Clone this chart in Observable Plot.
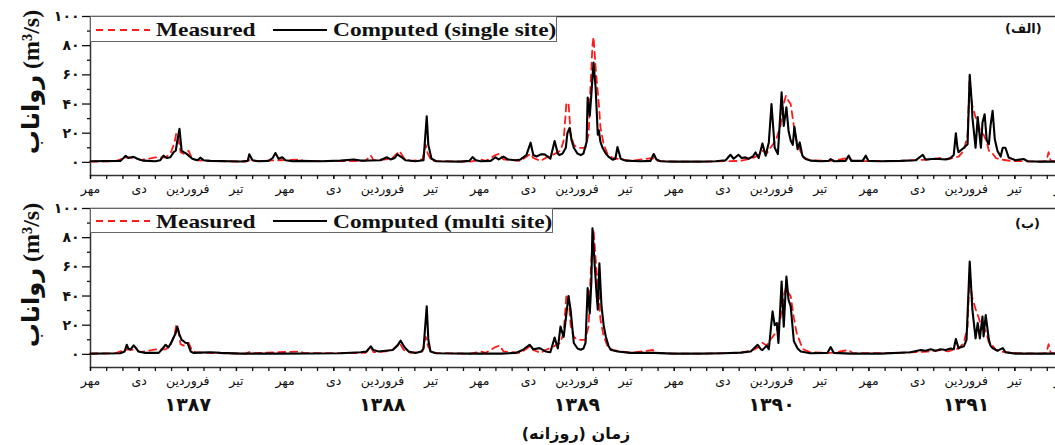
<!DOCTYPE html>
<html><head><meta charset="utf-8">
<script src="https://cdn.jsdelivr.net/npm/d3@7"></script>
<script src="https://cdn.jsdelivr.net/npm/@observablehq/plot@0.6"></script>
<style>
html,body{margin:0;padding:0;background:#fff;overflow:hidden}
#wrap{position:relative;width:1070px;height:445px;overflow:hidden;color:#111}
.pl{position:absolute;left:0;width:1070px}
.legend{position:absolute;border:1px solid #666;background:#fff;box-sizing:border-box}
.legend svg{position:absolute}
.lt{position:absolute;top:50%;font-family:"Liberation Serif",serif;font-weight:bold;font-size:19px;line-height:19px;white-space:nowrap;transform-origin:left center;transform:translateY(-50%) scaleX(1.23);color:#111}
.ytitle{position:absolute;white-space:nowrap;font-family:"Liberation Serif","DejaVu Sans",serif;font-weight:bold;font-size:24px;transform:translate(-50%,-50%) rotate(-90deg);color:#111}
.plabel{position:absolute;font-family:"DejaVu Sans",sans-serif;font-weight:bold;font-size:13px;white-space:nowrap;color:#111}
.xtitle{position:absolute;font-family:"DejaVu Sans",sans-serif;font-weight:bold;font-size:16px;white-space:nowrap;transform:translate(-50%,-50%);color:#111}
</style>
</head><body>
<div id="wrap">
  <div class="pl" id="p1" style="top:0"></div>
  <div class="pl" id="p2" style="top:200px"></div>

  <div class="legend" style="left:90px;top:16px;width:467px;height:26px">
    <svg style="left:5px;top:11px" width="54" height="4"><line x1="0" y1="2" x2="54" y2="2" stroke="#ff1a1a" stroke-width="2" stroke-dasharray="7,5"/></svg>
    <span class="lt" style="left:65px">Measured</span>
    <svg style="left:182px;top:11px" width="54" height="4"><line x1="0" y1="2" x2="54" y2="2" stroke="#000" stroke-width="2"/></svg>
    <span class="lt" style="left:242px">Computed (single site)</span>
  </div>
  <div class="legend" style="left:90px;top:208px;width:463px;height:25px">
    <svg style="left:5px;top:10px" width="54" height="4"><line x1="0" y1="2" x2="54" y2="2" stroke="#ff1a1a" stroke-width="2" stroke-dasharray="7,5"/></svg>
    <span class="lt" style="left:65px">Measured</span>
    <svg style="left:182px;top:10px" width="54" height="4"><line x1="0" y1="2" x2="54" y2="2" stroke="#000" stroke-width="2"/></svg>
    <span class="lt" style="left:242px">Computed (multi site)</span>
  </div>

  <div class="ytitle" style="left:31px;top:82px">رواناب (m³/s)</div>
  <div class="ytitle" style="left:31px;top:275px">رواناب (m³/s)</div>
  <div class="plabel" dir="rtl" style="left:1005px;top:21px">(الف)</div>
  <div class="plabel" dir="rtl" style="left:1015px;top:216px">(ب)</div>
  <div class="xtitle" dir="rtl" style="left:576px;top:433px">زمان (روزانه)</div>
</div>
<script>
// ---- tick labels ----
const MONTHS = ["مهر", "دی", "فروردین", "تیر"];
const YEARS = ["۱۳۸۷", "۱۳۸۸", "۱۳۸۹", "۱۳۹۰", "۱۳۹۱"];
const Y_TICKS = [0, 20, 40, 60, 80, 100];
const Y_MINOR = [10, 30, 50, 70, 90];
const DAYS_TOTAL = 1826; // مهر ۱۳۸۷ .. مهر ۱۳۹۲ (daily)

// ---- series: [day index, discharge m3/s] ----
const measured = [
[0,0.5],[47,0.8],[60,2.5],[69,3.5],[84,3],[94,1.5],[109,2.5],[122,3.4],[141,3.5],[150,6],[158,14],[161,20],[165,16],[169,7],[175,6],[180,7],[184,8],[190,3],[197,1.5],[216,1],[291,0.5],[298,1.5],[304,0.8],[394,2],[400,0.8],
[469,0.8],[516,1],[526,4.8],[531,1.5],[554,2],[567,3],[580,7.8],[588,3],[601,1],[623,2],[629,12],[633,6],[640,1],[713,0.5],[732,2],[741,1],[760,5],[768,6],[775,2],[807,1],
[826,6],[831,3],[845,1],[854,3],[867,5],[882,8],[888,15],[893,40],[897,41],[901,20],[907,12],[914,10],[929,10],[935,20],[938,50],[942,80],[944,86],[948,65],[950,56],[954,40],[957,24],[963,12.5],[970,6],[980,3],[995,2],[1014,1],[1055,3],[1062,1],[1107,0.5],
[1145,0.5],[1220,1],[1243,3],[1254,5],[1261,8],[1269,6],[1276,10],[1286,15],[1295,25],[1301,40],[1305,45.7],[1310,42],[1314,40],[1320,25],[1325,15],[1333,7],[1338,3.4],[1351,1.5],[1389,1],[1423,3],[1430,1],[1449,0.8],
[1520,1],[1577,2],[1595,3],[1609,2],[1618,3],[1629,4],[1639,8],[1646,19],[1650,59],[1654,40],[1661,31],[1667,25],[1671,20],[1676,19],[1682,14],[1686,8],[1693,6],[1699,3],[1708,2],[1727,1],[1783,0.5],[1794,1],[1798,7],[1802,1],[1824,0.5]
];
const singleSite = [
[0,0.8],[56,1],[62,3],[66,4.5],[71,3],[81,3.8],[88,2.5],[98,1.2],[122,0.8],[131,1.5],[137,4.6],[143,3],[150,3.5],[156,7],[160,8],[163,15],[167,23],[171,8],[175,7],[180,6],[186,4],[191,2.5],[201,1.5],[206,3.2],[212,1.5],[225,1],[282,0.6],[295,1],[298,5.5],[304,1.5],[315,0.8],[334,1],[342,3],[347,6.4],[353,2.5],[360,3.5],[366,1.5],[379,0.8],
[394,1],[432,0.8],[469,1.2],[494,2],[507,1.2],[544,1.5],[556,3.5],[563,2],[571,3],[576,5.5],[582,4],[591,1.5],[610,0.8],[625,1.5],[631,31.5],[634,12],[640,2.5],[649,0.8],[694,0.5],[711,1],[717,3.6],[723,1.5],[732,0.8],[751,1],[760,3.5],[766,2],[775,4],[783,2],[798,1.5],[807,2],
[818,5],[826,13.5],[831,5],[837,4],[845,5.5],[852,5.5],[858,4],[863,2.5],[871,14.6],[877,6],[880,5],[886,6],[892,10],[895,20],[899,23.5],[903,15],[907,10],[914,6],[920,5],[925,6],[931,14],[933,44.5],[937,32],[940,47],[944,68.5],[948,51],[950,35],[952,19],[954,22],[957,14],[961,10],[967,6],[972,4],[980,1.8],[985,2.5],[989,10.5],[995,2.5],[1004,1.2],[1032,0.8],[1051,1],[1057,5.7],[1062,2],[1070,0.8],[1092,0.5],
[1145,0.5],[1173,0.8],[1192,1.5],[1198,4],[1201,5.2],[1207,2.5],[1216,5.2],[1222,3],[1229,3.4],[1235,2.5],[1243,4],[1248,6.8],[1254,3],[1261,13],[1267,4.6],[1273,13.7],[1278,40],[1284,10],[1290,5.7],[1297,48],[1301,25],[1306,37.7],[1310,21.7],[1314,15],[1318,12],[1321,24.4],[1327,9],[1331,13.7],[1336,4.6],[1342,2.3],[1351,1.2],[1370,0.8],[1385,1],[1389,2.3],[1395,0.8],[1417,1],[1423,4.6],[1428,1],[1449,1],[1455,4.6],[1460,1],
[1483,0.8],[1520,1],[1549,1.5],[1562,5.2],[1567,2],[1586,2.5],[1605,2],[1614,3],[1620,5],[1624,20],[1627,10],[1629,7],[1639,10],[1646,12.5],[1650,60],[1654,40],[1655,31],[1661,10],[1665,31],[1671,10],[1674,27.4],[1678,33],[1682,15],[1686,12.5],[1689,25],[1693,35.4],[1697,16],[1702,8],[1708,4],[1712,10],[1717,10],[1723,3.4],[1736,1.5],[1751,2.3],[1759,0.8],[1783,0.5],[1824,0.5]
];
const multiSite = [
[0,0.5],[56,0.8],[64,2],[68,6.6],[71,4],[75,3.2],[81,6.2],[86,4],[90,2],[103,1],[128,1],[133,3],[141,6.6],[146,4.8],[150,7],[154,10],[160,14.6],[163,19],[167,13.5],[171,10],[175,9],[178,8],[182,7.8],[188,2],[193,1],[206,1.2],[225,1.5],[244,1],[282,0.5],
[357,0.5],[469,0.8],[507,1.5],[518,2],[526,5.5],[531,3],[541,2],[567,3],[576,6],[582,9.4],[589,5],[597,2],[610,1],[621,2],[625,4],[631,33],[634,10],[638,2],[649,0.8],[713,0.5],
[770,0.5],[798,1],[811,3],[824,6.6],[831,3.5],[843,4.3],[854,2],[863,1.5],[871,11.6],[877,4],[882,19],[888,12],[897,40],[901,30.6],[907,7.8],[914,4],[920,3.2],[925,4],[929,7.8],[933,45.4],[937,28],[940,50],[942,86.5],[946,62.5],[950,40],[952,30.6],[955,62.5],[959,33],[963,20],[967,12.3],[972,6],[976,3.2],[989,2],[1014,1],[1057,1],[1092,0.5],
[1145,0.5],[1188,0.8],[1220,1.2],[1239,2],[1252,6.6],[1258,3.5],[1261,3],[1269,6],[1273,3.5],[1280,29.5],[1284,20],[1288,21.5],[1291,7.8],[1297,50],[1301,19],[1306,53.4],[1310,37.4],[1314,33],[1320,9],[1327,4],[1333,2],[1351,0.8],[1383,1],[1389,5],[1395,1],[1427,0.5],
[1483,0.5],[1539,1.5],[1558,3],[1567,2.5],[1577,3.5],[1586,2.5],[1595,3.5],[1605,3],[1614,4],[1620,3.5],[1624,10.5],[1629,4.3],[1639,5.5],[1644,10],[1650,63.7],[1655,30.6],[1661,11],[1665,21.5],[1669,11],[1674,26],[1676,12.3],[1680,27],[1686,10],[1689,6],[1693,4.3],[1702,2.5],[1712,4.3],[1717,1.5],[1736,0.5],[1824,0.5]
];

const fa = n => String(n).replace(/\d/g, d => "۰۱۲۳۴۵۶۷۸۹"[+d]);
const toRows = a => a.map(([d, v]) => ({d, v}));
const monthLen = DAYS_TOTAL / 60;
const monthTicks = d3.range(61).map(i => i * monthLen);
const labelTicks = d3.range(0, 61, 3).map(i => i * monthLen);
const monthName = new Map(labelTicks.map((t, k) => [t, MONTHS[k % 4]]));
const yearTicks = YEARS.map((y, k) => (6 + 12 * k) * monthLen);
const yearName = new Map(yearTicks.map((t, k) => [t, YEARS[k]]));

function panel(comp, height, mt, mb, withYears) {
  const marks = [
    Plot.frame({stroke: "#333", strokeWidth: 1.5}),
    Plot.axisY(Y_MINOR, {tickSize: 3, tickFormat: () => "", label: null, strokeWidth: 1.3}),
    Plot.axisY(Y_TICKS, {tickSize: 8, tickPadding: 3, tickFormat: fa, fontSize: 14, fontWeight: "bold", label: null, strokeWidth: 1.3}),
    Plot.axisX(monthTicks, {tickSize: 4, tickFormat: () => "", label: null, strokeWidth: 1.3}),
    Plot.axisX(labelTicks, {tickSize: 4, tickPadding: 5, tickFormat: d => monthName.get(d), fontSize: 12.5, label: null, strokeWidth: 1.3}),
    Plot.line(toRows(measured), {x: "d", y: "v", stroke: "#ff1a1a", strokeWidth: 1.8, strokeDasharray: "7,5"}),
    Plot.line(toRows(comp), {x: "d", y: "v", stroke: "#000", strokeWidth: 2.1})
  ];
  if (withYears) marks.push(Plot.axisX(yearTicks, {tickSize: 0, tickPadding: 30, tickFormat: d => yearName.get(d), fontSize: 19, fontWeight: "bold", label: null}));
  return Plot.plot({
    width: 1070, height, marginLeft: 90, marginRight: 7, marginTop: mt, marginBottom: mb,
    style: {fontFamily: "'DejaVu Sans', sans-serif", background: "transparent", overflow: "visible", color: "#111", maxWidth: "none"},
    x: {domain: [0, DAYS_TOTAL]},
    y: {domain: [-9, 100]},
    marks
  });
}
document.getElementById("p1").appendChild(panel(singleSite, 200, 16, 25, false));
document.getElementById("p2").appendChild(panel(multiSite, 245, 8, 78, true));
</script>
</body></html>
